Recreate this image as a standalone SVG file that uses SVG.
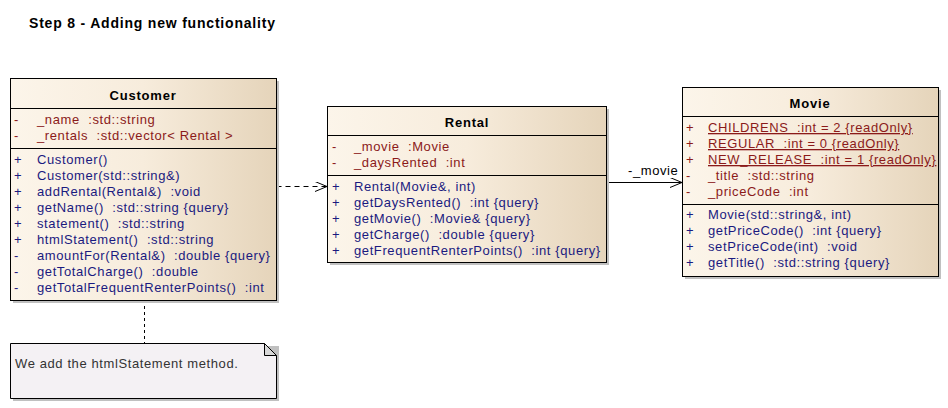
<svg xmlns="http://www.w3.org/2000/svg" width="948" height="408" viewBox="0 0 948 408">
<style>
text{font-family:"Liberation Sans",Arial,sans-serif;font-size:13px;letter-spacing:0.6px;white-space:pre}
.title{font-size:14px;font-weight:bold;fill:#000;letter-spacing:0.8px}
.hd{font-weight:bold;fill:#000;text-anchor:middle;letter-spacing:0.8px}
.a{fill:#8b1a1a}
.m{fill:#1a1a80}
.u{text-decoration:underline}
.box{fill:url(#g);stroke:#000;stroke-width:1}
.sh{fill:#c0c0c0}
.ln{stroke:#000;stroke-width:1}
.note{fill:#f4f1f4;stroke:#000;stroke-width:1}
</style>
<defs>
<linearGradient id="g" x1="0" y1="0" x2="1" y2="0">
<stop offset="0" stop-color="#fcf5ea"/>
<stop offset="0.5" stop-color="#f7ecdc"/>
<stop offset="1" stop-color="#e5d4ba"/>
</linearGradient>
<marker id="open" viewBox="0 0 12 10" refX="12" refY="5" markerWidth="12" markerHeight="10" markerUnits="userSpaceOnUse" orient="auto">
<path d="M0,0 L12,5 L0,10" fill="none" stroke="#000" stroke-width="1"/>
</marker>
</defs>
<rect width="948" height="408" fill="#fff"/>
<text class="title" x="29" y="28">Step 8 - Adding new functionality</text>

<g id="connectors">
<line x1="276.5" y1="186.5" x2="327" y2="186.5" stroke="#000" stroke-dasharray="5,4" marker-end="url(#open)"/>
<line x1="606.5" y1="182.5" x2="682" y2="182.5" stroke="#000" marker-end="url(#open)"/>
<text x="628" y="175" fill="#000">-_movie</text>
<line x1="144.5" y1="300" x2="144.5" y2="343" stroke="#000" stroke-dasharray="3,3"/>
</g>

<g id="Customer">
<rect class="sh" x="13" y="81" width="266" height="222"/>
<rect class="box" x="10.5" y="78.5" width="266" height="222"/>
<text class="hd" x="143" y="100">Customer</text>
<line class="ln" x1="10.5" y1="108.5" x2="276.5" y2="108.5"/>
<text class="a" x="14" y="124">-</text><text class="a" x="37" y="124">_name  :std::string</text>
<text class="a" x="14" y="140">-</text><text class="a" x="37" y="140">_rentals  :std::vector&lt; Rental &gt;</text>
<line class="ln" x1="10.5" y1="148.5" x2="276.5" y2="148.5"/>
<text class="m" x="14" y="164">+</text><text class="m" x="37" y="164">Customer()</text>
<text class="m" x="14" y="180">+</text><text class="m" x="37" y="180">Customer(std::string&amp;)</text>
<text class="m" x="14" y="196">+</text><text class="m" x="37" y="196">addRental(Rental&amp;)  :void</text>
<text class="m" x="14" y="212">+</text><text class="m" x="37" y="212">getName()  :std::string {query}</text>
<text class="m" x="14" y="228">+</text><text class="m" x="37" y="228">statement()  :std::string</text>
<text class="m" x="14" y="244">+</text><text class="m" x="37" y="244">htmlStatement()  :std::string</text>
<text class="m" x="14" y="260">-</text><text class="m" x="37" y="260">amountFor(Rental&amp;)  :double {query}</text>
<text class="m" x="14" y="276">-</text><text class="m" x="37" y="276">getTotalCharge()  :double</text>
<text class="m" x="14" y="292">-</text><text class="m" x="37" y="292">getTotalFrequentRenterPoints()  :int</text>
</g>

<g id="Rental">
<rect class="sh" x="330" y="109" width="279" height="156"/>
<rect class="box" x="327.5" y="106.5" width="279" height="156"/>
<text class="hd" x="467" y="127">Rental</text>
<line class="ln" x1="327.5" y1="135.5" x2="606.5" y2="135.5"/>
<text class="a" x="332" y="151">-</text><text class="a" x="354" y="151">_movie  :Movie</text>
<text class="a" x="332" y="167">-</text><text class="a" x="354" y="167">_daysRented  :int</text>
<line class="ln" x1="327.5" y1="175.5" x2="606.5" y2="175.5"/>
<text class="m" x="332" y="191">+</text><text class="m" x="354" y="191">Rental(Movie&amp;, int)</text>
<text class="m" x="332" y="207">+</text><text class="m" x="354" y="207">getDaysRented()  :int {query}</text>
<text class="m" x="332" y="223">+</text><text class="m" x="354" y="223">getMovie()  :Movie&amp; {query}</text>
<text class="m" x="332" y="239">+</text><text class="m" x="354" y="239">getCharge()  :double {query}</text>
<text class="m" x="332" y="255">+</text><text class="m" x="354" y="255">getFrequentRenterPoints()  :int {query}</text>
</g>

<g id="Movie">
<rect class="sh" x="685" y="90" width="256" height="189"/>
<rect class="box" x="682.5" y="87.5" width="256" height="189"/>
<text class="hd" x="810" y="108">Movie</text>
<line class="ln" x1="682.5" y1="116.5" x2="938.5" y2="116.5"/>
<text class="a" x="686" y="132">+</text><text class="a u" x="708" y="132">CHILDRENS  :int = 2 {readOnly}</text>
<text class="a" x="686" y="148">+</text><text class="a u" x="708" y="148">REGULAR  :int = 0 {readOnly}</text>
<text class="a" x="686" y="164">+</text><text class="a u" x="708" y="164">NEW_RELEASE  :int = 1 {readOnly}</text>
<text class="a" x="686" y="180">-</text><text class="a" x="708" y="180">_title  :std::string</text>
<text class="a" x="686" y="196">-</text><text class="a" x="708" y="196">_priceCode  :int</text>
<line class="ln" x1="682.5" y1="204.5" x2="938.5" y2="204.5"/>
<text class="m" x="686" y="219">+</text><text class="m" x="708" y="219">Movie(std::string&amp;, int)</text>
<text class="m" x="686" y="235">+</text><text class="m" x="708" y="235">getPriceCode()  :int {query}</text>
<text class="m" x="686" y="251">+</text><text class="m" x="708" y="251">setPriceCode(int)  :void</text>
<text class="m" x="686" y="267">+</text><text class="m" x="708" y="267">getTitle()  :std::string {query}</text>
</g>

<g id="Note">
<path class="sh" d="M13,346 H279 V401 H13 Z"/>
<path class="note" d="M10.5,343.5 H264.5 L276.5,355.5 V398.5 H10.5 Z"/>
<path d="M264.5,343.5 V355.5 H276.5 Z" fill="#d8d8d8" stroke="#000"/>
<text x="15" y="368" fill="#333">We add the htmlStatement method.</text>
</g>
</svg>
